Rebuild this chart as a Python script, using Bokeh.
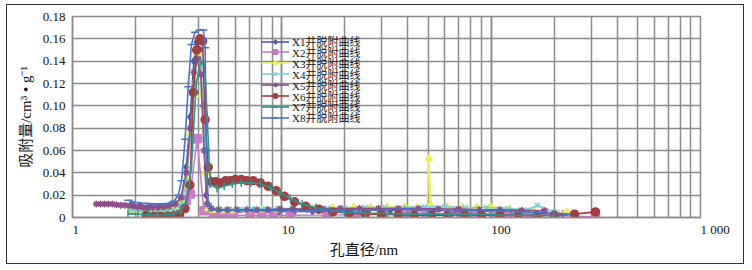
import numpy as np
from bokeh.plotting import figure
from bokeh.models import (Range1d, FixedTicker, LogTicker, Legend, LegendItem,
                          NumeralTickFormatter)
from bokeh.embed import file_html
from bokeh.resources import INLINE

# ---------------- data ----------------
series_names = ["X1井脱附曲线", "X2井脱附曲线", "X3井脱附曲线", "X4井脱附曲线",
                "X5井脱附曲线", "X6井脱附曲线", "X7井脱附曲线", "X8井脱附曲线"]

x1 = [1.9, 2.1, 2.35, 2.6, 2.85, 3.1, 3.3, 3.5, 3.65, 3.8, 3.92, 4.05, 4.2, 4.35, 4.5, 4.8,
      5.3, 6, 7, 8.2, 9.7, 11.5, 14, 17, 21, 26, 33, 42, 53, 67, 85, 108, 138, 175, 220]
y1 = [0.011, 0.0105, 0.0095, 0.009, 0.0095, 0.011, 0.016, 0.045, 0.09, 0.14, 0.157, 0.15, 0.10,
      0.02, 0.007, 0.0055, 0.005, 0.005, 0.005, 0.005, 0.0055, 0.0055, 0.0055, 0.006, 0.006,
      0.0065, 0.0065, 0.0065, 0.0065, 0.006, 0.006, 0.0055, 0.005, 0.004, 0.003]

x2 = [1.95, 2.28, 2.75, 3.3, 3.5, 3.65, 3.94, 4.24, 4.71, 5.26, 5.87, 7.05, 8.02, 9.12, 10.96,
      16.4, 22.4, 30, 39.6, 48.5, 62.7, 71.3, 84.1, 102.8, 121, 151, 203, 315]
y2 = [0.0065, 0.004, 0.0035, 0.0095, 0.0155, 0.021, 0.0706, 0.006, 0.0036, 0.002, 0.002, 0.002,
      0.002, 0.002, 0.002, 0.0022, 0.0025, 0.003, 0.003, 0.0035, 0.0035, 0.0035, 0.0035, 0.0035,
      0.003, 0.003, 0.002, 0.0005]

x3 = [1.9, 2.1, 2.35, 2.6, 2.85, 3.1, 3.3, 3.5, 3.65, 3.8, 3.99, 4.15, 4.3, 4.45, 4.7, 5.2, 5.9,
      6.8, 8, 9.5, 11.5, 14, 17.5, 22, 26.5, 31.8, 38.9, 44.3, 49.5, 50.4, 51.5, 61.6, 72.7, 85.3,
      99, 123, 160, 231]
y3 = [0.0065, 0.006, 0.0055, 0.006, 0.0065, 0.009, 0.0155, 0.035, 0.075, 0.12, 0.147, 0.11, 0.04,
      0.008, 0.0065, 0.006, 0.006, 0.0065, 0.007, 0.007, 0.0075, 0.008, 0.0085, 0.009, 0.009,
      0.0095, 0.0095, 0.009, 0.009, 0.053, 0.011, 0.0095, 0.009, 0.009, 0.0095, 0.008, 0.006, 0.005]

x4 = [1.9, 2.1, 2.35, 2.6, 2.85, 3.1, 3.3, 3.5, 3.65, 3.8, 3.95, 4.1, 4.25, 4.4, 4.6, 5.0, 5.6,
      6.3, 7.2, 8.3, 9.6, 11.2, 13.5, 16.5, 20, 25, 31, 39, 48, 60, 75, 95, 120, 150, 166, 200]
y4 = [0.0065, 0.006, 0.0055, 0.0055, 0.006, 0.008, 0.013, 0.03, 0.07, 0.12, 0.144, 0.138, 0.07,
      0.012, 0.008, 0.0075, 0.0075, 0.0075, 0.008, 0.008, 0.008, 0.008, 0.008, 0.0085, 0.0085,
      0.009, 0.009, 0.009, 0.0095, 0.0095, 0.009, 0.009, 0.008, 0.007, 0.011, 0.005]

x5 = [1.30, 1.36, 1.42, 1.48, 1.55, 1.62, 1.70, 1.78, 1.87, 1.96, 2.06, 2.17, 2.29, 2.42, 2.56,
      2.72, 2.9, 3.1, 3.3, 3.5, 3.65, 3.8, 3.95, 4.1, 4.25, 4.4, 4.6, 5.0, 5.5, 6.1, 6.8, 7.6,
      8.6, 9.8, 11.3, 13.2, 15.7, 19, 23.5, 29, 36, 45, 56, 70, 88, 110, 140, 180]
y5 = [0.012, 0.012, 0.012, 0.012, 0.012, 0.0115, 0.011, 0.011, 0.0105, 0.010, 0.0095, 0.009,
      0.009, 0.009, 0.009, 0.0095, 0.010, 0.012, 0.018, 0.04, 0.08, 0.13, 0.142, 0.128, 0.06,
      0.012, 0.008, 0.007, 0.007, 0.007, 0.007, 0.007, 0.007, 0.0075, 0.0075, 0.0075, 0.0075,
      0.008, 0.008, 0.008, 0.008, 0.008, 0.0075, 0.0075, 0.007, 0.007, 0.0065, 0.006]

x6 = [2.25, 2.45, 2.65, 2.85, 3.05, 3.25, 3.45, 3.64, 3.78, 3.92, 4.06, 4.18, 4.30, 4.45, 4.62,
      4.85, 5.1, 5.4, 5.7, 6.0, 6.4, 6.8, 7.3, 7.9, 8.6, 9.4, 10.3, 11.5, 13, 15, 17.5, 21, 25,
      30, 36, 43, 52, 62, 75, 90, 110, 135, 165, 200, 250, 315]
y6 = [0.002, 0.001, 0.001, 0.0012, 0.0015, 0.003, 0.008, 0.029, 0.112, 0.15, 0.16, 0.158, 0.0876,
      0.045, 0.032, 0.032, 0.031, 0.033, 0.033, 0.034, 0.034, 0.033, 0.033, 0.031, 0.028, 0.024,
      0.019, 0.014, 0.010, 0.0075, 0.005, 0.004, 0.003, 0.003, 0.0025, 0.002, 0.002, 0.002,
      0.0025, 0.002, 0.002, 0.002, 0.0015, 0.002, 0.003, 0.005]

x7 = [1.84, 2.05, 2.3, 2.55, 2.8, 3.05, 3.3, 3.5, 3.7, 3.9, 4.1, 4.28, 4.4, 4.55, 4.9, 5.3, 5.8,
      6.4, 7.1, 7.9, 8.8, 9.8, 11, 12.5, 14.5, 17, 20, 25, 32, 40, 50, 63, 80, 100, 125, 160, 200]
y7 = [0.0035, 0.003, 0.0025, 0.002, 0.0025, 0.003, 0.006, 0.015, 0.045, 0.12, 0.14, 0.135, 0.09,
      0.03, 0.026, 0.028, 0.030, 0.031, 0.031, 0.030, 0.027, 0.022, 0.017, 0.012, 0.009, 0.006,
      0.0045, 0.004, 0.0035, 0.003, 0.003, 0.003, 0.003, 0.0025, 0.002, 0.002, 0.0015]

x8 = [1.85, 2.0, 2.3, 2.6, 2.85, 3.05, 3.2, 3.32, 3.45, 3.57, 3.7, 3.85, 4.05, 4.22, 4.3, 4.36,
      4.45, 4.7, 5.2, 6, 7, 8.5, 10, 13, 17, 22, 30, 40, 50, 65, 85, 110, 140, 180, 230]
y8 = [0.0155, 0.0135, 0.0125, 0.012, 0.0125, 0.0145, 0.02, 0.033, 0.07, 0.117, 0.155, 0.166,
      0.168, 0.168, 0.152, 0.06, 0.012, 0.007, 0.0065, 0.0065, 0.006, 0.006, 0.006, 0.006,
      0.0065, 0.007, 0.007, 0.0075, 0.007, 0.007, 0.0065, 0.006, 0.005, 0.004, 0.003]

y_ticks = [0, 0.02, 0.04, 0.06, 0.08, 0.10, 0.12, 0.14, 0.16, 0.18]
x_tick_values = [1, 10, 100, 1000]
x_tick_labels = ["1", "10", "100", "1 000"]

x_title = "孔直径/nm"
y_title = "吸附量/cm³ • g⁻¹"

# ---------------- styles ----------------
colors = ["#4B5C9E", "#C97AC9", "#EDED55", "#78D2D0", "#8A4E8A", "#A23E3E", "#2F958E", "#4A72C6"]
markers = ["diamond", "square", "triangle", "x", "asterisk", "circle", "dash", "dash"]
marker_angles = [0, 0, 0, 0, 0, 0, np.pi / 2, 0]
marker_sizes = [7, 8, 7, 7, 7, 8, 8, 8]

SERIF = "Liberation Serif, 'Noto Sans CJK SC'"
GRID = "#8a8a8a"
FIG_SP = "\u2007"   # digit-wide space: labels sit to the right of their tick, as in the source


def left_anchored(label):
    # pad on the left by the label's own width so the centred label starts at its tick
    return FIG_SP * sum(1 for c in label if c.isdigit()) + ("\u00a0" if " " in label else "") \
        + label.replace(" ", "\u00a0")


p = figure(width=738, height=260, x_axis_type="log",
           x_range=Range1d(1, 1000), y_range=Range1d(0, 0.18),
           output_backend="svg", toolbar_location=None,
           min_border_left=65, min_border_right=45, min_border_top=11, min_border_bottom=48,
           background_fill_color="white", border_fill_color="white")
p.styles = {"margin-left": "6px", "margin-top": "4px", "border": "1.5px solid #333"}

p.outline_line_color = GRID
p.outline_line_width = 1.5

# grids
p.xaxis.ticker = LogTicker(num_minor_ticks=10)
p.xgrid.grid_line_color = GRID
p.xgrid.grid_line_width = 1.5
p.xgrid.minor_grid_line_color = GRID
p.xgrid.minor_grid_line_width = 1.5
p.ygrid.ticker = FixedTicker(ticks=y_ticks)
p.ygrid.grid_line_color = GRID
p.ygrid.grid_line_width = 1.5

# y axis
p.yaxis.ticker = FixedTicker(ticks=y_ticks)
p.yaxis.formatter = NumeralTickFormatter(format="0.00")
p.yaxis.major_label_overrides = {0: "0"}
p.yaxis.major_tick_out = 0
p.yaxis.major_tick_in = 0
p.yaxis.minor_tick_line_color = None
p.yaxis.axis_line_color = GRID
p.yaxis.axis_line_width = 1.5
p.yaxis.major_label_standoff = 7
p.yaxis.major_label_text_font = SERIF
p.yaxis.major_label_text_font_size = "13px"
p.yaxis.major_label_text_color = "#111"
p.yaxis.axis_label = y_title
p.yaxis.axis_label_text_font = SERIF
p.yaxis.axis_label_text_font_size = "15px"
p.yaxis.axis_label_text_font_style = "normal"
p.yaxis.axis_label_text_color = "#111"
p.yaxis.axis_label_standoff = 6

# x axis
p.xaxis.major_label_overrides = {v: left_anchored(t) for v, t in zip(x_tick_values, x_tick_labels)}
p.xaxis.major_tick_out = 0
p.xaxis.major_tick_in = 0
p.xaxis.minor_tick_line_color = None
p.xaxis.axis_line_color = GRID
p.xaxis.axis_line_width = 1.5
p.xaxis.major_label_text_font = SERIF
p.xaxis.major_label_text_font_size = "13px"
p.xaxis.major_label_text_color = "#111"
p.xaxis.major_label_standoff = 0
p.xaxis.axis_label = x_title + "\u3000\u3000\u3000"
p.xaxis.axis_label_text_font = SERIF
p.xaxis.axis_label_text_font_size = "15px"
p.xaxis.axis_label_text_font_style = "normal"
p.xaxis.axis_label_text_color = "#111"
p.xaxis.axis_label_standoff = 2

# series
xs = [x1, x2, x3, x4, x5, x6, x7, x8]
ys = [y1, y2, y3, y4, y5, y6, y7, y8]
ROW0, ROW_STEP = 168, 10.9   # one single-row legend per series, stacked 11 px apart
for i in range(8):
    lr = p.line(xs[i], ys[i], line_color=colors[i], line_width=1.6)
    sr = p.scatter(xs[i], ys[i], marker=markers[i], size=marker_sizes[i], angle=marker_angles[i],
                   fill_color=colors[i], line_color=colors[i], line_width=1.5)
    lg = Legend(items=[LegendItem(label=series_names[i], renderers=[lr, sr])],
                location=(189, ROW0 - ROW_STEP * i), orientation="vertical",
                label_text_font=SERIF, label_text_font_size="11px", label_text_color="#111",
                label_height=11, glyph_height=11, glyph_width=28, spacing=0, padding=0,
                margin=0, label_standoff=3, background_fill_alpha=0, border_line_alpha=0)
    p.add_layout(lg, "center")

open("out.html", "w").write(file_html(p, INLINE))
